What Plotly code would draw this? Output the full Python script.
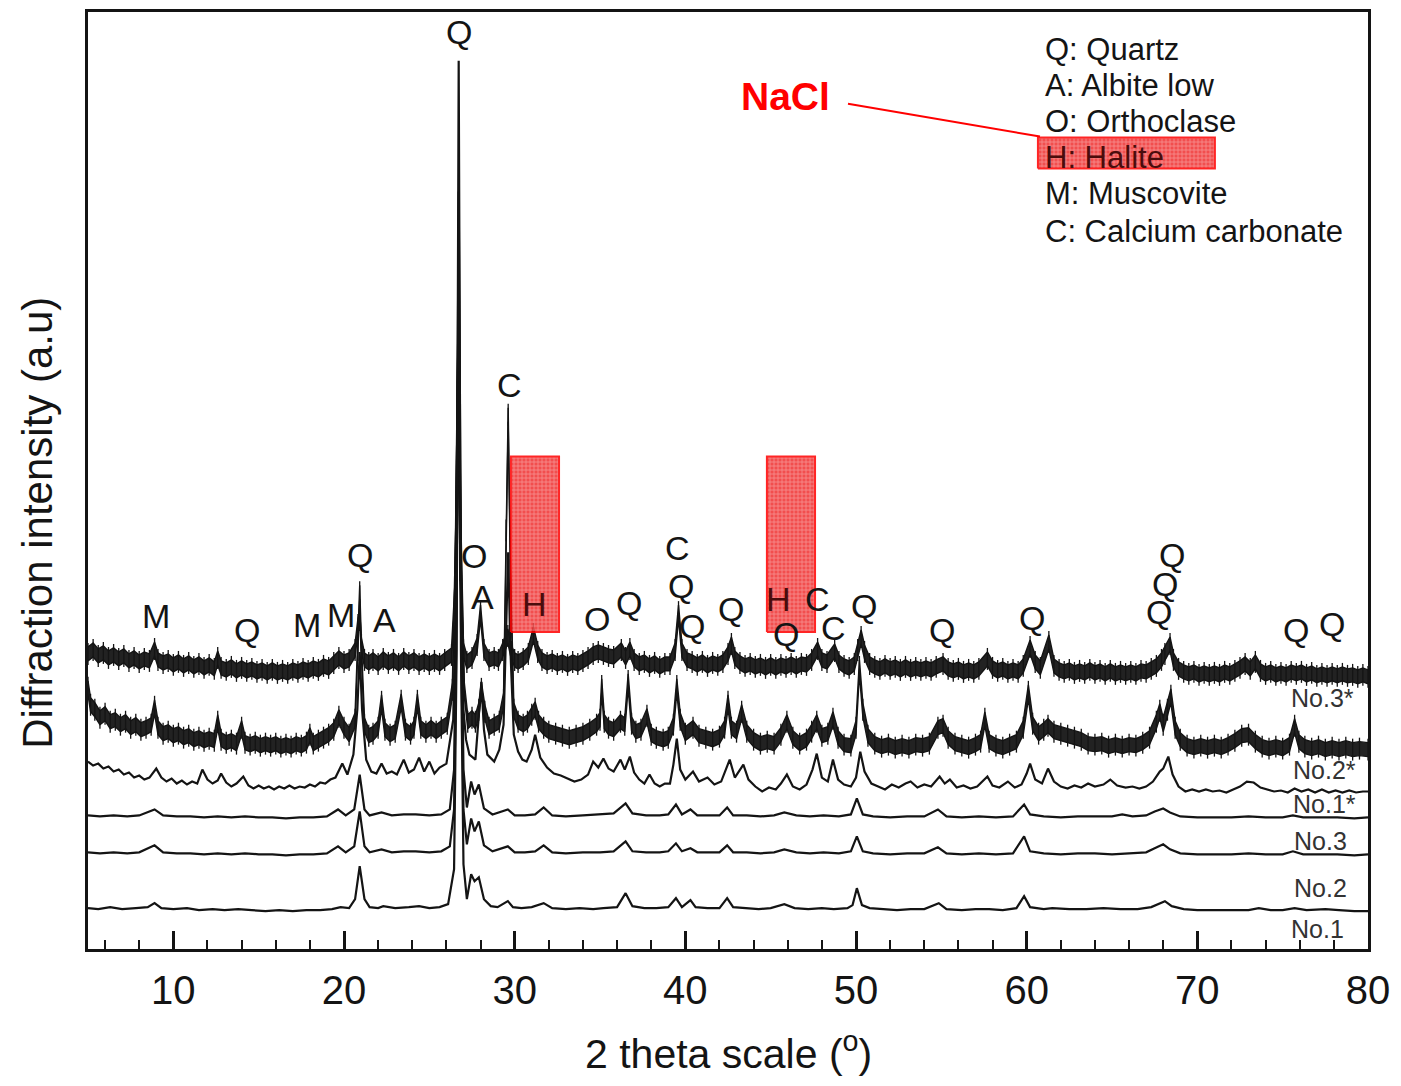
import plotly.graph_objects as go

# ---------------- data (2-theta in degrees, intensity in arbitrary units) ----------------
no1 = [(5.0,41),(5.6,40),(6.3,42),(7.0,40),(7.8,41),(8.5,42),(8.9,46),(9.3,41),(10.0,40),(10.8,41),(11.5,39),(12.3,40),(13.0,39),(13.8,40),(14.6,39),(15.4,38),(16.2,39),(17.0,38),(17.8,39),(18.6,39),(19.3,40),(19.8,42),(20.3,41),(20.65,50),(20.92,83),(21.2,50),(21.5,42),(22.0,41),(22.3,43),(23.0,41),(23.8,42),(24.4,43),(25.0,41),(25.6,42),(26.1,45),(26.45,80),(26.6,300),(26.72,891),(26.85,300),(27.0,85),(27.2,50),(27.45,75),(27.65,68),(27.9,72),(28.2,50),(28.6,43),(29.0,42),(29.6,48),(29.9,42),(30.4,41),(31.0,42),(31.7,46),(32.2,41),(33.0,40),(33.8,41),(34.6,40),(35.2,41),(36.0,42),(36.5,56),(36.9,43),(37.6,41),(38.3,41),(39.0,42),(39.45,51),(39.8,42),(40.3,49),(40.6,42),(41.3,41),(42.0,41),(42.45,51),(42.8,42),(43.5,41),(44.3,40),(45.0,41),(45.8,45),(46.4,41),(47.2,40),(48.0,41),(48.7,40),(49.5,41),(49.8,44),(50.05,61),(50.35,44),(50.8,41),(51.6,40),(52.4,39),(53.2,40),(54.0,40),(54.85,46),(55.3,40),(56.2,39),(57.0,40),(57.8,40),(58.6,39),(59.4,41),(59.85,53),(60.2,42),(61.0,40),(61.5,41),(62.5,40),(63.5,40),(64.5,41),(65.5,40),(66.5,40),(67.3,42),(67.8,46),(68.1,48),(68.5,43),(69.2,40),(70.0,39),(71.0,39),(72.0,39),(73.0,39),(73.6,41),(74.3,39),(75.0,39),(75.7,41),(76.4,39),(77.5,40),(78.3,39),(79.2,38),(80.0,38)]

no2 = [(5.0,97),(5.7,96),(6.5,97),(7.3,96),(8.0,97),(8.9,104),(9.4,97),(10.2,96),(11.0,96),(11.8,95),(12.6,96),(13.4,95),(14.2,96),(15.0,95),(15.8,95),(16.6,94),(17.4,95),(18.2,95),(19.0,96),(19.65,103),(20.1,97),(20.6,103),(20.92,138),(21.2,103),(21.5,97),(22.2,100),(22.8,97),(23.5,98),(24.2,98),(25.0,97),(25.7,98),(26.2,103),(26.45,140),(26.6,330),(26.72,700),(26.85,330),(27.0,140),(27.2,105),(27.45,131),(27.65,118),(27.9,128),(28.2,104),(28.7,98),(29.6,103),(30.0,97),(30.6,97),(31.2,98),(31.7,104),(32.2,97),(33.0,96),(34.0,97),(35.0,97),(35.8,98),(36.5,108),(36.9,98),(37.7,97),(38.5,97),(39.0,98),(39.45,106),(39.8,98),(40.3,101),(40.7,97),(41.5,97),(42.0,97),(42.45,104),(42.8,97),(43.6,97),(44.4,96),(45.2,97),(45.8,100),(46.5,97),(47.3,96),(48.1,97),(49.0,96),(49.7,98),(50.05,113),(50.4,98),(51.0,96),(52.0,95),(53.0,96),(54.0,96),(54.8,102),(55.3,96),(56.2,95),(57.2,96),(58.2,95),(59.2,96),(59.85,113),(60.2,98),(61.0,96),(62.0,95),(63.0,96),(64.0,96),(65.0,95),(66.0,96),(67.0,97),(67.5,101),(68.0,105),(68.4,100),(69.0,96),(70.0,95),(71.0,95),(72.0,95),(73.0,96),(74.0,95),(75.0,95),(75.6,98),(76.2,95),(77.2,95),(78.2,95),(79.2,94),(80.0,95)]

no3 = [(5.0,134),(5.7,133),(6.5,134),(7.3,133),(8.0,134),(8.9,140),(9.4,134),(10.2,133),(11.0,133),(11.8,132),(12.6,133),(13.4,132),(14.2,133),(15.0,132),(15.8,132),(16.6,131),(17.4,132),(18.2,132),(19.0,133),(19.65,140),(20.1,134),(20.6,140),(20.92,175),(21.2,140),(21.5,134),(22.2,137),(22.8,134),(23.5,135),(24.2,135),(25.0,134),(25.7,135),(26.2,140),(26.45,180),(26.6,380),(26.72,760),(26.85,380),(27.0,180),(27.2,142),(27.45,168),(27.65,155),(27.9,165),(28.2,141),(28.7,135),(29.6,140),(30.0,134),(30.6,134),(31.2,135),(31.7,142),(32.2,134),(33.0,133),(34.0,134),(35.0,135),(35.8,136),(36.5,146),(36.9,136),(37.7,134),(38.5,134),(39.0,135),(39.45,145),(39.8,135),(40.3,140),(40.7,134),(41.5,134),(42.0,134),(42.45,142),(42.8,134),(43.6,134),(44.4,133),(45.2,134),(45.8,137),(46.5,134),(47.3,133),(48.1,134),(49.0,133),(49.7,135),(50.05,151),(50.4,135),(51.0,133),(52.0,132),(53.0,133),(54.0,133),(54.8,140),(55.3,133),(56.2,132),(57.2,133),(58.2,132),(59.2,133),(59.85,145),(60.2,135),(61.0,133),(62.0,132),(63.0,133),(64.0,133),(65.0,133),(65.6,135),(66.2,133),(67.0,134),(67.5,138),(68.0,141),(68.4,137),(69.0,133),(70.0,132),(71.0,132),(72.0,132),(73.0,133),(74.0,132),(75.0,132),(75.6,134),(76.2,132),(77.2,132),(78.2,132),(79.2,131),(80.0,132)]

no1_star = [(5.0,188),(5.3,184),(5.6,186),(5.9,181),(6.2,183),(6.5,178),(6.8,180),(7.1,175),(7.4,177),(7.7,172),(8.0,174),(8.3,170),(8.6,172),(9.0,181),(9.3,172),(9.6,168),(9.9,171),(10.2,166),(10.5,169),(10.8,165),(11.1,168),(11.4,166),(11.7,180),(12.0,170),(12.3,166),(12.6,169),(12.8,176),(13.1,167),(13.4,163),(13.7,166),(14.1,173),(14.4,164),(14.7,161),(15.0,164),(15.3,161),(15.6,163),(15.9,160),(16.2,163),(16.5,161),(16.8,164),(17.1,161),(17.4,163),(17.7,162),(18.0,165),(18.3,163),(18.6,167),(18.9,166),(19.2,170),(19.5,172),(19.9,186),(20.2,175),(20.55,195),(20.78,240),(20.92,298),(21.06,240),(21.3,190),(21.6,178),(21.9,176),(22.2,186),(22.5,176),(22.8,178),(23.1,175),(23.5,190),(23.8,177),(24.1,180),(24.4,192),(24.7,178),(25.0,188),(25.3,176),(25.6,182),(26.0,186),(26.4,230),(26.58,380),(26.7,560),(26.82,380),(27.0,240),(27.15,210),(27.35,195),(27.7,190),(27.9,230),(28.05,268),(28.2,220),(28.4,195),(28.8,188),(29.1,200),(29.35,225),(29.5,330),(29.62,398),(29.75,300),(29.95,215),(30.2,198),(30.45,190),(30.7,188),(31.0,200),(31.2,215),(31.5,192),(31.9,182),(32.3,176),(32.7,174),(33.1,171),(33.5,168),(33.9,170),(34.3,175),(34.6,188),(34.9,182),(35.2,191),(35.5,181),(35.8,178),(36.2,190),(36.45,180),(36.75,193),(37.0,177),(37.3,170),(37.6,166),(37.9,175),(38.2,166),(38.5,163),(38.8,166),(39.1,166),(39.3,185),(39.5,211),(39.7,180),(40.0,170),(40.45,178),(40.8,168),(41.3,172),(41.7,165),(42.1,168),(42.6,190),(42.9,172),(43.4,185),(43.7,170),(44.1,163),(44.5,158),(44.9,162),(45.3,160),(45.6,166),(45.95,175),(46.3,163),(46.7,160),(47.1,165),(47.45,180),(47.7,196),(48.0,172),(48.35,168),(48.65,190),(48.95,170),(49.3,165),(49.7,163),(50.0,172),(50.25,198),(50.5,178),(50.9,166),(51.3,163),(51.7,160),(52.1,165),(52.5,162),(52.9,166),(53.2,168),(53.6,162),(54.0,165),(54.4,163),(54.9,173),(55.2,166),(55.5,170),(55.9,162),(56.3,164),(56.7,161),(57.1,163),(57.7,173),(58.0,164),(58.4,162),(58.9,168),(59.3,162),(59.7,165),(60.0,176),(60.2,186),(60.5,170),(60.9,166),(61.25,181),(61.6,168),(62.0,163),(62.4,161),(62.8,164),(63.2,162),(63.6,166),(64.0,163),(64.5,165),(64.9,170),(65.3,164),(65.8,162),(66.2,163),(66.6,161),(67.0,163),(67.4,168),(67.8,178),(68.0,181),(68.3,193),(68.55,175),(68.9,163),(69.3,158),(69.7,160),(70.1,158),(70.5,160),(70.9,158),(71.3,159),(71.7,157),(72.1,160),(72.5,163),(72.9,168),(73.3,167),(73.7,162),(74.1,160),(74.5,158),(74.9,159),(75.3,157),(75.7,161),(76.1,158),(76.5,160),(76.9,157),(77.3,160),(77.7,157),(78.1,159),(78.5,157),(78.9,159),(79.3,157),(79.7,158),(80.0,158)]

# noisy scans: centre line of the noise band
no2_star = [(5.0,262),(5.15,245),(5.4,240),(5.7,232),(6.0,236),(6.3,228),(6.6,230),(6.9,225),(7.2,228),(7.5,222),(7.8,225),(8.1,220),(8.4,222),(8.7,225),(8.9,243),(9.1,222),(9.4,216),(9.7,218),(10.0,214),(10.3,216),(10.6,212),(10.9,214),(11.2,210),(11.5,212),(11.8,209),(12.1,211),(12.4,209),(12.6,228),(12.8,210),(13.1,207),(13.4,209),(13.7,206),(14.0,222),(14.2,207),(14.5,205),(14.8,207),(15.1,204),(15.4,206),(15.7,204),(16.0,206),(16.3,203),(16.6,205),(16.9,203),(17.2,206),(17.5,204),(17.8,207),(18.0,215),(18.2,206),(18.5,209),(18.8,212),(19.1,215),(19.4,220),(19.7,233),(20.0,222),(20.3,215),(20.65,230),(20.82,300),(20.92,358),(21.02,300),(21.2,225),(21.45,214),(21.7,216),(22.0,222),(22.2,248),(22.4,220),(22.7,215),(23.0,218),(23.35,249),(23.6,220),(23.9,216),(24.1,222),(24.3,249),(24.5,222),(24.8,218),(25.1,222),(25.4,218),(25.7,222),(26.05,226),(26.35,260),(26.55,420),(26.7,640),(26.85,420),(27.05,260),(27.25,228),(27.5,232),(27.7,228),(27.9,240),(28.05,261),(28.25,238),(28.5,222),(28.8,225),(29.1,228),(29.35,250),(29.5,420),(29.62,536),(29.75,380),(29.95,240),(30.2,228),(30.5,225),(30.75,228),(31.0,235),(31.2,241),(31.4,228),(31.7,222),(32.0,218),(32.4,216),(32.8,214),(33.2,212),(33.6,214),(34.0,216),(34.4,220),(34.8,225),(35.0,230),(35.1,264),(35.25,228),(35.5,222),(35.8,220),(36.2,228),(36.45,225),(36.65,269),(36.85,226),(37.1,218),(37.4,220),(37.75,234),(38.0,215),(38.3,212),(38.7,210),(39.0,212),(39.3,225),(39.5,264),(39.7,230),(40.0,216),(40.45,222),(40.8,214),(41.2,212),(41.6,210),(42.0,213),(42.3,222),(42.5,248),(42.7,222),(43.0,218),(43.3,238),(43.6,218),(44.0,210),(44.4,206),(44.8,208),(45.2,206),(45.6,215),(45.95,228),(46.3,212),(46.7,206),(47.1,210),(47.4,218),(47.7,228),(48.0,214),(48.35,216),(48.65,231),(48.95,212),(49.3,205),(49.7,204),(50.0,222),(50.2,283),(50.4,240),(50.7,214),(51.1,206),(51.5,203),(51.9,205),(52.3,202),(52.7,204),(53.1,202),(53.5,205),(53.9,204),(54.3,206),(54.8,222),(55.1,224),(55.4,212),(55.8,206),(56.2,204),(56.6,202),(57.0,205),(57.3,208),(57.55,231),(57.8,208),(58.2,204),(58.6,202),(59.0,205),(59.4,208),(59.8,222),(60.1,258),(60.35,226),(60.7,216),(61.0,220),(61.25,224),(61.6,218),(62.0,216),(62.4,214),(62.8,212),(63.2,210),(63.6,206),(64.0,205),(64.4,206),(64.8,203),(65.2,205),(65.6,203),(66.0,205),(66.4,204),(66.8,207),(67.2,212),(67.6,228),(67.8,239),(68.0,225),(68.25,240),(68.45,254),(68.7,222),(69.0,210),(69.4,204),(69.8,202),(70.2,204),(70.6,202),(71.0,204),(71.4,202),(71.8,205),(72.2,209),(72.6,214),(73.0,215),(73.4,208),(73.8,203),(74.2,201),(74.6,203),(75.0,201),(75.4,205),(75.7,224),(75.95,208),(76.3,203),(76.7,201),(77.1,203),(77.5,200),(77.9,202),(78.3,200),(78.7,202),(79.1,200),(79.5,201),(80.0,200)]

no3_star = [(5.0,296),(5.3,300),(5.6,294),(5.9,297),(6.2,292),(6.5,295),(6.8,291),(7.1,294),(7.4,289),(7.7,292),(8.0,288),(8.3,291),(8.6,289),(8.9,301),(9.1,290),(9.4,287),(9.7,289),(10.0,285),(10.3,288),(10.6,284),(10.9,287),(11.2,283),(11.5,286),(11.8,282),(12.1,285),(12.4,281),(12.6,292),(12.8,282),(13.1,280),(13.4,283),(13.7,279),(14.0,282),(14.3,279),(14.6,281),(14.9,278),(15.2,280),(15.5,277),(15.8,280),(16.1,277),(16.4,279),(16.7,277),(17.0,280),(17.3,278),(17.6,281),(17.9,279),(18.2,282),(18.5,280),(18.8,284),(19.1,282),(19.4,287),(19.7,292),(20.0,288),(20.3,290),(20.65,300),(20.82,325),(20.92,331),(21.02,305),(21.2,290),(21.45,287),(21.7,290),(22.0,286),(22.3,291),(22.6,287),(22.9,290),(23.2,286),(23.5,291),(23.8,287),(24.1,290),(24.4,286),(24.7,289),(25.0,286),(25.3,289),(25.6,286),(25.9,290),(26.3,295),(26.5,360),(26.66,600),(26.8,380),(27.0,300),(27.2,288),(27.5,292),(27.8,305),(28.0,338),(28.2,300),(28.5,290),(28.8,292),(29.05,290),(29.3,300),(29.6,314),(29.8,298),(30.0,290),(30.2,288),(30.5,291),(30.8,296),(31.1,316),(31.35,298),(31.6,290),(31.9,287),(32.2,289),(32.5,286),(32.8,288),(33.1,285),(33.4,288),(33.7,286),(34.0,289),(34.3,292),(34.6,296),(34.9,298),(35.2,296),(35.5,294),(35.8,293),(36.25,300),(36.5,292),(36.75,301),(37.0,290),(37.3,286),(37.6,288),(37.9,284),(38.2,287),(38.5,283),(38.8,286),(39.1,286),(39.4,300),(39.6,338),(39.8,300),(40.1,290),(40.4,288),(40.7,285),(41.0,288),(41.3,284),(41.6,287),(41.9,285),(42.2,288),(42.5,296),(42.7,306),(42.9,292),(43.2,287),(43.5,284),(43.8,286),(44.1,283),(44.4,285),(44.7,282),(45.0,285),(45.3,282),(45.6,285),(45.9,283),(46.2,286),(46.5,283),(46.8,286),(47.1,285),(47.4,290),(47.75,301),(48.0,290),(48.3,288),(48.75,299),(49.0,288),(49.3,284),(49.6,282),(49.9,286),(50.1,300),(50.3,313),(50.5,298),(50.8,286),(51.1,283),(51.4,281),(51.7,284),(52.0,281),(52.3,283),(52.6,280),(52.9,283),(53.2,280),(53.5,282),(53.8,280),(54.1,282),(54.4,280),(54.7,283),(55.1,286),(55.4,281),(55.7,279),(56.0,281),(56.3,278),(56.6,280),(56.9,278),(57.2,281),(57.7,291),(58.0,282),(58.3,279),(58.6,281),(58.9,278),(59.2,280),(59.5,278),(59.8,284),(60.2,303),(60.5,288),(60.8,282),(61.3,308),(61.6,284),(61.9,280),(62.2,278),(62.5,280),(62.8,277),(63.1,279),(63.4,277),(63.7,280),(64.0,277),(64.3,279),(64.6,276),(64.9,279),(65.2,276),(65.5,278),(65.8,276),(66.1,278),(66.4,276),(66.7,279),(67.0,278),(67.3,281),(67.6,284),(67.9,290),(68.1,296),(68.4,306),(68.6,290),(68.9,281),(69.2,278),(69.5,276),(69.8,278),(70.1,275),(70.4,277),(70.7,275),(71.0,277),(71.3,275),(71.6,278),(71.9,276),(72.2,279),(72.5,282),(72.8,286),(73.1,281),(73.4,288),(73.7,279),(74.0,276),(74.3,278),(74.6,275),(74.9,277),(75.2,275),(75.5,278),(75.8,276),(76.1,278),(76.4,275),(76.7,277),(77.0,274),(77.3,276),(77.6,274),(77.9,276),(78.2,274),(78.5,276),(78.8,274),(79.1,275),(79.4,273),(79.7,275),(80.0,273)]
noise_halfwidth = 7
noise_spike = 11

# sample names and label anchor (2-theta, intensity)
sample_names = ["No.3*", "No.2*", "No.1*", "No.3", "No.2", "No.1"]
sample_label_x = [77.36, 77.48, 77.48, 77.19, 77.19, 77.07]
sample_label_y = [252, 180, 145, 108, 61, 20]

# phase identification letters (label, 2-theta, intensity)
peak_letters = [("M", 8.98, 334), ("Q", 14.32, 320), ("M", 17.83, 325), ("M", 19.82, 335), ("A", 22.40, 330),
                ("Q", 20.94, 395), ("Q", 26.74, 920), ("O", 27.62, 394), ("A", 28.14, 353), ("C", 29.67, 566),
                ("O", 34.82, 331), ("Q", 36.70, 347), ("C", 39.57, 402), ("Q", 39.75, 364), ("Q", 40.39, 324),
                ("Q", 42.68, 341), ("Q", 45.90, 316), ("C", 47.77, 351), ("C", 48.71, 322), ("Q", 50.47, 344),
                ("Q", 55.04, 320), ("Q", 60.31, 332), ("Q", 67.75, 338), ("Q", 68.10, 366), ("Q", 68.51, 395),
                ("Q", 75.78, 320), ("Q", 77.89, 326)]
halite_letters = [("H", 31.19, 346), ("H", 45.43, 351)]

# halite (NaCl) highlighted 2-theta windows and their intensity span
halite_windows = [(29.78, 32.60), (44.78, 47.60)]
halite_span = (318, 494)
legend_halite_box = (60.66, 71.03, 783, 814)
nacl_label = (45.84, 855)
nacl_leader = ((49.53, 848), (60.78, 815))

legend_lines = ["Q: Quartz", "A: Albite low", "O: Orthoclase", "H: Halite", "M: Muscovite", "C: Calcium carbonate"]
legend_y = [902, 866, 830, 794, 758, 720]
legend_x = 60.96

x_ticks = [10, 20, 30, 40, 50, 60, 70, 80]

# ---------------- figure ----------------
FONT = "Liberation Sans, Arial, Helvetica, sans-serif"
INK = "#141414"
RED_PATTERN = dict(shape="+", fgcolor="rgba(255,255,255,0.75)", bgcolor="#f03030", size=4, solidity=0.35)
fig = go.Figure()

for pts in (no3_star, no2_star):
    xs = [p[0] for p in pts]
    c = [p[1] for p in pts]
    fig.add_trace(go.Scatter(x=xs, y=[v - noise_halfwidth for v in c], mode="lines",
                             line=dict(color=INK, width=1.4), showlegend=False, hoverinfo="skip"))
    fig.add_trace(go.Scatter(x=xs, y=[v + noise_halfwidth for v in c], mode="lines",
                             line=dict(color=INK, width=1.4), fill="tonexty",
                             fillcolor="rgba(10,10,10,0.9)", showlegend=False, hoverinfo="skip"))
    # noise spikes fringe around the band
    fig.add_trace(go.Scatter(x=xs, y=c, mode="markers", marker=dict(size=0.1, color=INK, opacity=0),
                             error_y=dict(type="constant", value=noise_spike, width=0, thickness=1.3, color=INK),
                             showlegend=False, hoverinfo="skip"))

for pts in (no1_star, no3, no2, no1):
    fig.add_trace(go.Scatter(x=[p[0] for p in pts], y=[p[1] for p in pts], mode="lines",
                             line=dict(color=INK, width=2.2), showlegend=False, hoverinfo="skip"))

# halite highlight boxes
boxes = [(x0, x1, halite_span[0], halite_span[1]) for x0, x1 in halite_windows] + [legend_halite_box]
for x0, x1, y0, y1 in boxes:
    fig.add_trace(go.Scatter(x=[x0, x1, x1, x0, x0], y=[y0, y0, y1, y1, y0], mode="lines",
                             line=dict(color="#ff0000", width=2), fill="toself",
                             fillcolor="rgba(240,48,48,0.8)", fillpattern=RED_PATTERN,
                             opacity=0.85, showlegend=False, hoverinfo="skip"))

fig.add_trace(go.Scatter(x=[nacl_leader[0][0], nacl_leader[1][0]], y=[nacl_leader[0][1], nacl_leader[1][1]],
                         mode="lines", line=dict(color="#ff0000", width=2), showlegend=False, hoverinfo="skip"))

ann = []
for t, x, y in peak_letters:
    ann.append(dict(x=x, y=y, text=t, showarrow=False, xanchor="center", yanchor="middle",
                    font=dict(family=FONT, size=34, color=INK)))
for t, x, y in halite_letters:
    ann.append(dict(x=x, y=y, text=t, showarrow=False, xanchor="center", yanchor="middle",
                    font=dict(family=FONT, size=34, color="#4a0c0c")))
for t, x, y in zip(sample_names, sample_label_x, sample_label_y):
    ann.append(dict(x=x, y=y, text=t, showarrow=False, xanchor="center", yanchor="middle",
                    font=dict(family=FONT, size=25, color="#333333")))
for t, y in zip(legend_lines, legend_y):
    col = "#4a0c0c" if t.startswith("H") else INK
    ann.append(dict(x=legend_x, y=y, text=t, showarrow=False, xanchor="left", yanchor="middle",
                    font=dict(family=FONT, size=31, color=col)))
ann.append(dict(x=nacl_label[0], y=nacl_label[1], text="<b>NaCl</b>", showarrow=False,
                xanchor="center", yanchor="middle", font=dict(family=FONT, size=39, color="#ff0000")))
ann.append(dict(xref="paper", yref="paper", x=-0.039, y=0.455, text="Diffraction intensity (a.u)",
                textangle=-90, showarrow=False, xanchor="center", yanchor="middle",
                font=dict(family=FONT, size=42, color=INK)))
ann.append(dict(xref="paper", yref="paper", x=0.5, y=-0.109, text="2 theta scale (<sup>o</sup>)",
                showarrow=False, xanchor="center", yanchor="middle",
                font=dict(family=FONT, size=41, color=INK)))

fig.update_layout(
    width=1385, height=1070,
    margin=dict(l=80, r=25, t=1, b=129),
    paper_bgcolor="white", plot_bgcolor="white",
    hovermode=False, showlegend=False,
    annotations=ann,
    xaxis=dict(range=[5, 80], showline=True, mirror=True, linecolor=INK, linewidth=2.5,
               ticks="inside", ticklen=18, tickwidth=2.5, tickcolor=INK,
               tickvals=x_ticks, ticktext=[str(v) for v in x_ticks],
               tickfont=dict(family=FONT, size=40, color=INK), ticklabelstandoff=4,
               minor=dict(dtick=2, tick0=0, ticks="inside", ticklen=9, tickwidth=2, tickcolor=INK, showgrid=False),
               showgrid=False, zeroline=False),
    yaxis=dict(range=[0, 940], showline=True, mirror=True, linecolor=INK, linewidth=2.5,
               ticks="", showticklabels=False, showgrid=False, zeroline=False),
)

fig.write_html("out.html")
